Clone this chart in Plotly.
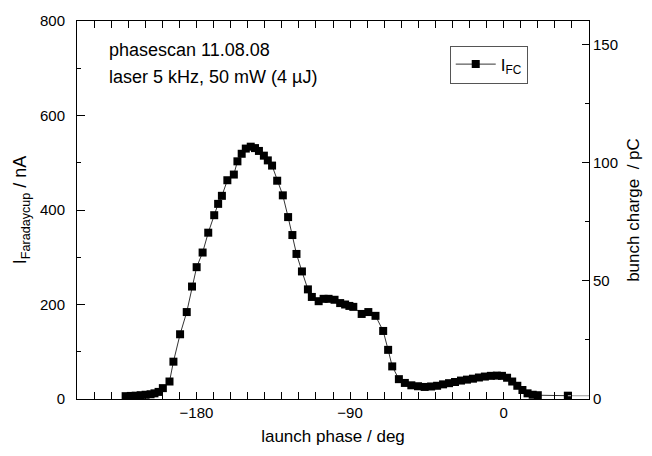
import plotly.graph_objects as go

# launch phase (deg) and Faraday cup current (nA)
phase = [-221.5, -218.5, -215.6, -212.7, -209.8, -206.9, -204.6, -202.2, -199.7, -195.8,
         -193.5, -189.6, -185.7, -182.6, -179.9, -176.4, -173.1, -169.6, -167.3, -165.1,
         -161.9, -158.1, -156.0, -153.5, -151.1, -148.2, -145.7, -143.4, -140.5, -138.2,
         -135.7, -132.7, -129.4, -126.3, -123.8, -121.4, -118.2, -114.7, -112.4, -108.4,
         -105.5, -102.6, -99.1, -95.8, -92.9, -90.4, -88.1, -83.2, -79.3, -75.1,
         -70.6, -67.7, -65.3, -61.4, -57.9, -54.1, -50.2, -46.3, -42.5, -39.0,
         -35.5, -32.0, -28.5, -25.0, -21.5, -18.0, -14.5, -11.0, -7.5, -4.0,
         -1.0, 2.0, 5.0, 8.0, 11.0, 14.0, 17.0, 20.0, 37.6]
i_fc = [6, 6.5, 7, 8, 9, 10, 12, 15, 23, 37,
        79, 137, 184, 238, 279, 310, 352, 389, 413, 430,
        463, 475, 503, 519, 530, 534, 531, 525, 515, 505,
        494, 462, 431, 385, 347, 307, 270, 232, 216, 207,
        212, 212, 210, 203, 200, 197, 195, 180, 184, 176,
        144, 104, 69, 42, 34, 29, 27, 25.5, 26.5, 28,
        31, 33.5, 36, 39, 41, 43, 45.5, 47.5, 49, 49.5,
        49, 45, 37, 28, 19, 12, 9, 8, 7]

# bunch charge tail (pC), right axis
q_phase = [37.6, 50]
q_pc = [1.4, 1.4]

FONT = "Liberation Sans, Arial, sans-serif"

fig = go.Figure()
fig.add_trace(go.Scatter(
    x=phase, y=i_fc, mode="lines+markers", name="I<sub>FC</sub>",
    line=dict(color="black", width=0.8),
    marker=dict(symbol="square", size=8, color="black"),
))
fig.add_trace(go.Scatter(
    x=q_phase, y=q_pc, mode="lines", yaxis="y2", showlegend=False,
    line=dict(color="#aaaaaa", width=1.2),
))

axis_common = dict(showgrid=False, zeroline=False, showline=True, linecolor="black",
                   linewidth=1, ticks="inside", tickcolor="black", tickwidth=1,
                   tickfont=dict(family=FONT, size=15, color="black"))

fig.update_layout(
    width=652, height=456,
    margin=dict(l=77, r=60, t=18, b=57),
    paper_bgcolor="white", plot_bgcolor="white",
    font=dict(family=FONT, color="black"),
    xaxis=dict(range=[-250, 50], tickmode="linear", tick0=0, dtick=90, ticklen=7,
               mirror="allticks",
               minor=dict(dtick=10, tick0=0, ticklen=4, ticks="inside", tickcolor="black"),
               title=dict(text="launch phase / deg", font=dict(family=FONT, size=17), standoff=10),
               **axis_common),
    yaxis=dict(range=[0, 800], tickmode="linear", tick0=0, dtick=200, ticklen=8,
               ticklabelstandoff=8,
               minor=dict(dtick=100, ticklen=4, ticks="inside", tickcolor="black"),
               title=dict(text="I<sub>Faradaycup</sub> / nA", font=dict(family=FONT, size=18), standoff=8),
               **axis_common),
    yaxis2=dict(range=[0, 160], overlaying="y", side="right", tickmode="linear", tick0=0,
                dtick=50, ticklen=7,
                minor=dict(dtick=25, ticklen=4, ticks="inside", tickcolor="black"),
                title=dict(text="bunch charge  / pC", font=dict(family=FONT, size=17), standoff=10),
                **axis_common),
    legend=dict(x=0.728, y=0.935, xanchor="left", yanchor="top",
                bordercolor="#555555", borderwidth=1, bgcolor="white",
                font=dict(family=FONT, size=17), itemwidth=40),
    annotations=[
        dict(text="phasescan 11.08.08", xref="paper", yref="paper", x=0.058, y=0.923,
             xanchor="left", yanchor="middle", showarrow=False,
             font=dict(family=FONT, size=18)),
        dict(text="laser 5 kHz, 50 mW (4 µJ)", xref="paper", yref="paper", x=0.058, y=0.852,
             xanchor="left", yanchor="middle", showarrow=False,
             font=dict(family=FONT, size=18)),
    ],
)

fig.write_html("out.html")
